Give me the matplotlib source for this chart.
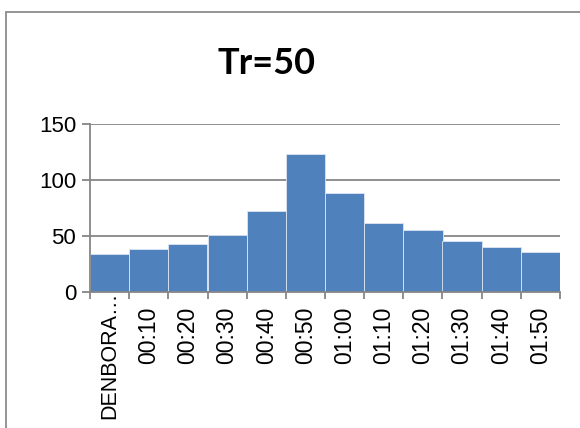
import numpy as np
import matplotlib
matplotlib.use("Agg")
import matplotlib.pyplot as plt
from matplotlib.patches import Rectangle
from matplotlib.transforms import ScaledTranslation

plt.rcParams['font.family'] = ['Liberation Sans', 'DejaVu Sans']

categories = ["DENBORA\u2026", "00:10", "00:20", "00:30", "00:40", "00:50",
              "01:00", "01:10", "01:20", "01:30", "01:40", "01:50"]
values = [33.5, 38, 43, 51, 72.5, 123.5, 88.5, 62, 55, 45.5, 40, 35.5]
title = "Tr=50"

bar_color = '#4F81BD'
grid_color = '#868686'

fig = plt.figure(figsize=(5.8, 4.28), dpi=100)
ax = fig.add_axes([90 / 580, 1 - 291.7 / 428, 470 / 580, (291.7 - 124.3) / 428])

x = np.arange(len(categories))
ax.bar(x, values, width=1.0, color=bar_color, edgecolor='#DCE6F2',
       linewidth=0.6, zorder=3)

# ── axes / grid ──
ax.set_xlim(-0.5, len(categories) - 0.5)
ax.set_ylim(0, 150)
ax.set_yticks([0, 50, 100, 150])
ax.yaxis.grid(True, color=grid_color, linewidth=1.3, zorder=1)
for side in ('top', 'right'):
    ax.spines[side].set_visible(False)
for side in ('left', 'bottom'):
    ax.spines[side].set_color(grid_color)
    ax.spines[side].set_linewidth(1.3)
    ax.spines[side].set_zorder(4)

ax.set_xticks(x)
ax.set_xticklabels(categories, rotation=90, va='top', ha='center')
ax.set_xticks(np.arange(-0.5, len(categories)), minor=True)
ax.tick_params(axis='x', which='major', length=0, pad=11, labelsize=16.5)
ax.tick_params(axis='x', which='minor', length=5, width=1.3,
               color=grid_color, direction='out')
ax.tick_params(axis='y', length=6, width=1.3, color=grid_color,
               labelsize=16, pad=4)

# long first label sits higher and a bit smaller, like the original
first = ax.get_xticklabels()[0]
first.set_fontsize(15.5)
first.set_transform(first.get_transform() +
                    ScaledTranslation(0, 15 / 100, fig.dpi_scale_trans))

# ── title ──
fig.text(266 / 580, 1 - 63 / 428, title, ha='center', va='center',
         fontsize=26, fontweight='bold', family=['Lato', 'DejaVu Sans'])

# ── chart frame (cropped at right/bottom) ──
fig.patches.append(Rectangle((6 / 580, -0.1), 1.2, 1 - 12 / 428 + 0.1,
                             transform=fig.transFigure, fill=False,
                             edgecolor='#8C8C8C', linewidth=1.3))

fig.savefig('out.png', dpi=100, facecolor='white')
